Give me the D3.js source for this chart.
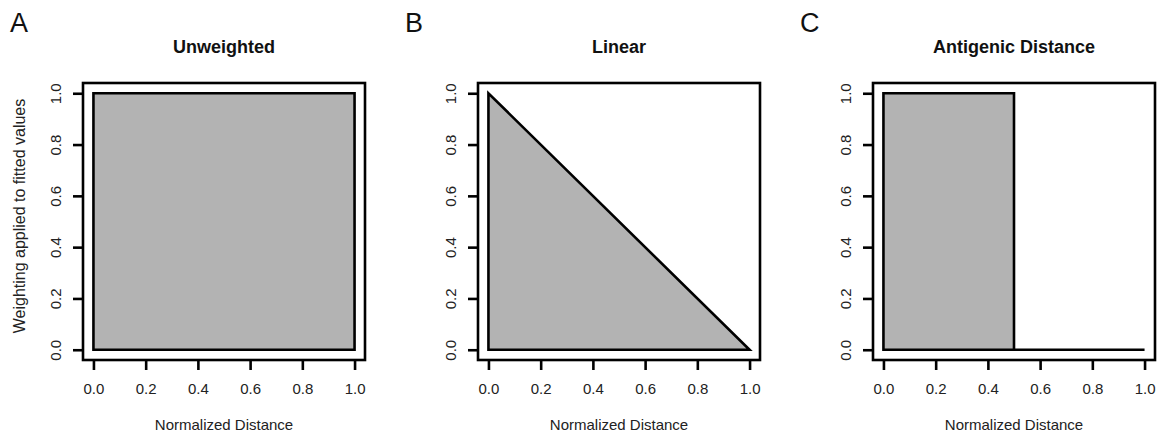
<!DOCTYPE html>
<html>
<head>
<meta charset="utf-8">
<script src="https://cdn.jsdelivr.net/npm/d3@7"></script>
<style>
  html, body { margin: 0; padding: 0; background: #fff; }
  svg { display: block; font-family: "Liberation Sans", Arial, Helvetica, sans-serif; }
</style>
</head>
<body>
<svg id="chart" width="1159" height="436"></svg>
<script>
// Panel labels and titles
const panelLetters = ["A", "B", "C"];
const panelTitles = ["Unweighted", "Linear", "Antigenic Distance"];

// Weighting functions as polygon outlines (normalized distance, weight)
const unweightedX = [0, 0, 1, 1];
const unweightedY = [0, 1, 1, 0];
const linearX = [0, 0, 1];
const linearY = [0, 1, 0];
const antigenicX = [0, 0, 0.5, 0.5];
const antigenicY = [0, 1, 1, 0];
// zero-weight tail beyond the antigenic cutoff
const antigenicTailX = [0.5, 1];
const antigenicTailY = [0, 0];

// Axis ticks
const xTicks = [0, 0.2, 0.4, 0.6, 0.8, 1.0];
const yTicks = [0, 0.2, 0.4, 0.6, 0.8, 1.0];

const xLabel = "Normalized Distance";
const yLabel = "Weighting applied to fitted values";

const panels = [
  { poly: d3.zip(unweightedX, unweightedY), tail: null },
  { poly: d3.zip(linearX, linearY), tail: null },
  { poly: d3.zip(antigenicX, antigenicY), tail: d3.zip(antigenicTailX, antigenicTailY) }
];

const svg = d3.select("#chart");
const boxLefts = [83, 478, 873];
const boxW = 282, boxTop = 83, boxBottom = 360;
const lw = 2.6;
const fillGrey = "#b3b3b3";

panels.forEach((p, i) => {
  const left = boxLefts[i], right = left + boxW;
  // R-style 4% padding around the data range
  const x = d3.scaleLinear().domain([-0.04, 1.04]).range([left, right]);
  const y = d3.scaleLinear().domain([-0.04, 1.04]).range([boxBottom, boxTop]);
  const g = svg.append("g");

  // filled weighting area
  g.append("path")
    .attr("d", d3.line().x(d => x(d[0])).y(d => y(d[1]))(p.poly) + "Z")
    .attr("fill", fillGrey)
    .attr("stroke", "#000")
    .attr("stroke-width", lw)
    .attr("stroke-linejoin", "miter");

  if (p.tail) {
    g.append("path")
      .attr("d", d3.line().x(d => x(d[0])).y(d => y(d[1]))(p.tail))
      .attr("fill", "none")
      .attr("stroke", "#000")
      .attr("stroke-width", lw);
  }

  // plot box
  g.append("rect")
    .attr("x", left).attr("y", boxTop)
    .attr("width", boxW).attr("height", boxBottom - boxTop)
    .attr("fill", "none").attr("stroke", "#000").attr("stroke-width", lw);

  // x axis
  const xa = g.append("g")
    .attr("transform", `translate(0,${boxBottom})`)
    .call(d3.axisBottom(x).tickValues(xTicks).tickFormat(d3.format(".1f")).tickSize(10).tickPadding(13));
  xa.select(".domain").remove();
  xa.selectAll(".tick line").attr("stroke", "#000").attr("stroke-width", lw);
  xa.selectAll(".tick text").attr("font-size", 15).attr("fill", "#222")
    .attr("font-family", "'Liberation Sans', Arial, sans-serif");

  // y axis with rotated labels
  const ya = g.append("g")
    .attr("transform", `translate(${left},0)`)
    .call(d3.axisLeft(y).tickValues(yTicks).tickFormat(d3.format(".1f")).tickSize(10));
  ya.select(".domain").remove();
  ya.selectAll(".tick line").attr("stroke", "#000").attr("stroke-width", lw);
  ya.selectAll(".tick text")
    .attr("x", null).attr("dy", null)
    .attr("text-anchor", "middle")
    .attr("transform", "translate(-22,0) rotate(-90)")
    .attr("font-size", 15).attr("fill", "#222")
    .attr("font-family", "'Liberation Sans', Arial, sans-serif");

  // title
  g.append("text")
    .attr("x", (left + right) / 2).attr("y", 53)
    .attr("text-anchor", "middle")
    .attr("font-weight", "bold").attr("font-size", 18).attr("fill", "#111")
    .text(panelTitles[i]);

  // panel letter
  g.append("text")
    .attr("x", left - 73).attr("y", 32)
    .attr("font-size", 27).attr("fill", "#111")
    .text(panelLetters[i]);

  // x label
  g.append("text")
    .attr("x", (left + right) / 2).attr("y", 430)
    .attr("text-anchor", "middle")
    .attr("font-size", 15).attr("fill", "#222")
    .text(xLabel);

  if (i === 0) {
    g.append("text")
      .attr("transform", `translate(25,216) rotate(-90)`)
      .attr("text-anchor", "middle")
      .attr("font-size", 16).attr("fill", "#222")
      .text(yLabel);
  }
});
</script>
</body>
</html>
